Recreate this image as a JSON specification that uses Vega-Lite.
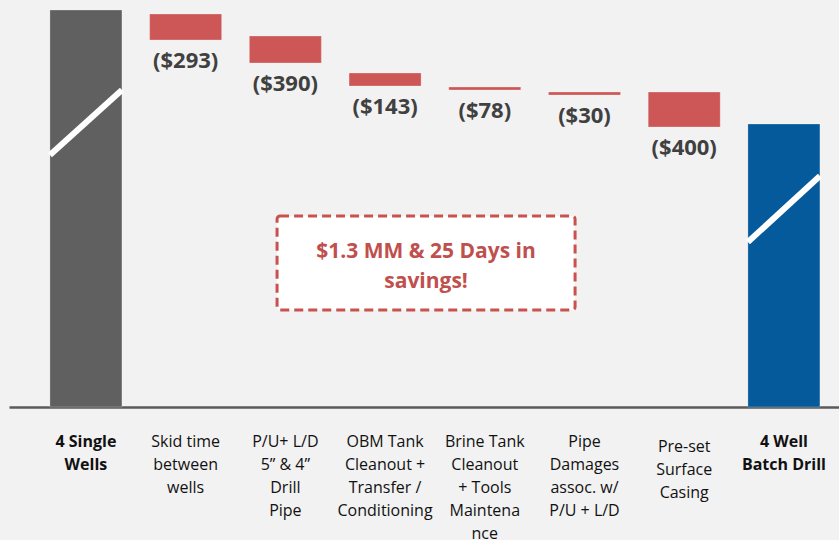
{
  "$schema": "https://vega.github.io/schema/vega-lite/v6.json",
  "autosize": "none",
  "width": 830,
  "height": 407,
  "padding": {"left": 9, "top": 0, "right": 0, "bottom": 133},
  "background": "#f2f2f2",
  "config": {"view": {"stroke": null}, "font": "Open Sans"},
  "resolve": {"scale": {"xOffset": "independent"}},
  "datasets": {
    "bars": [
      {"cat": "4 Single|Wells", "start": 0, "end": 397, "kind": "single", "label": ""},
      {"cat": "Skid time|between|wells", "start": 393, "end": 367, "kind": "saving", "label": "($293)"},
      {"cat": "P/U+  L/D|5”  & 4”|Drill|Pipe", "start": 371, "end": 344, "kind": "saving", "label": "($390)"},
      {"cat": "OBM Tank|Cleanout +|Transfer /|Conditioning", "start": 334, "end": 321, "kind": "saving", "label": "($143)"},
      {"cat": "Brine Tank|Cleanout|+ Tools|Maintena|nce", "start": 320, "end": 317, "kind": "saving", "label": "($78)"},
      {"cat": "Pipe|Damages|assoc. w/|P/U + L/D", "start": 315, "end": 312, "kind": "saving", "label": "($30)"},
      {"cat": "Pre-set|Surface|Casing", "start": 315, "end": 280, "kind": "saving", "label": "($400)"},
      {"cat": "4 Well|Batch Drill", "start": 0, "end": 283, "kind": "batch", "label": ""}
    ],
    "breaks": [
      {"cat": "4 Single|Wells", "side": "L", "v": 252},
      {"cat": "4 Single|Wells", "side": "R", "v": 317},
      {"cat": "4 Well|Batch Drill", "side": "L", "v": 165},
      {"cat": "4 Well|Batch Drill", "side": "R", "v": 231}
    ],
    "note": [
      {"cat": "OBM Tank|Cleanout +|Transfer /|Conditioning", "top": 191, "bottom": 97, "mid": 155.5, "text": "$1.3 MM & 25 Days in\nsavings!"}
    ]
  },
  "encoding": {
    "x": {
      "field": "cat",
      "type": "nominal",
      "sort": null,
      "scale": {
        "domain": ["4 Single|Wells", "Skid time|between|wells", "P/U+  L/D|5”  & 4”|Drill|Pipe", "OBM Tank|Cleanout +|Transfer /|Conditioning", "Brine Tank|Cleanout|+ Tools|Maintena|nce", "Pipe|Damages|assoc. w/|P/U + L/D", "Pre-set|Surface|Casing", "4 Well|Batch Drill"],
        "paddingInner": 0.278,
        "paddingOuter": 0.301,
        "align": 0.682
      },
      "axis": {
        "title": null,
        "orient": "bottom",
        "labelExpr": "split(datum.label, '|')",
        "labelAngle": 0,
        "labelFontSize": 16,
        "labelFont": "Open Sans",
        "labelColor": "#111111",
        "labelLineHeight": 23,
        "labelBaseline": "top",
        "labelPadding": {"condition": {"test": "indexof(datum.value, 'Pre-set') == 0", "value": 31}, "value": 26},
        "labelFontWeight": {"condition": {"test": "indexof(datum.value, '4 ') == 0", "value": "bold"}, "value": "normal"},
        "labelLimit": 0,
        "ticks": false,
        "domainColor": "#5a5a5a",
        "domainWidth": 2.5,
        "grid": false
      }
    }
  },
  "layer": [
    {
      "data": {"name": "bars"},
      "mark": {"type": "bar", "width": {"band": 1}, "strokeWidth": 1, "stroke": "#ffffff", "strokeOpacity": 0.25},
      "encoding": {
        "y": {"field": "start", "type": "quantitative", "scale": {"domain": [0, 407], "nice": false}, "axis": null},
        "y2": {"field": "end"},
        "color": {"field": "kind", "type": "nominal", "scale": {"domain": ["single", "saving", "batch"], "range": ["#606060", "#cd5756", "#055a9b"]}, "legend": null}
      }
    },
    {
      "data": {"name": "bars"},
      "mark": {"type": "text", "dy": 21, "baseline": "middle", "align": "center", "fontSize": 22, "fontWeight": "bold", "font": "Open Sans", "color": "#404040"},
      "encoding": {
        "y": {"field": "end", "type": "quantitative"},
        "text": {"field": "label"}
      }
    },
    {
      "data": {"name": "breaks"},
      "mark": {"type": "line", "color": "#ffffff", "strokeWidth": 6, "strokeCap": "butt"},
      "encoding": {
        "xOffset": {"field": "side", "type": "nominal", "scale": {"type": "point", "domain": ["L", "R"], "padding": 0}},
        "y": {"field": "v", "type": "quantitative"},
        "detail": {"field": "cat"}
      }
    },
    {
      "data": {"name": "note"},
      "mark": {"type": "bar", "width": 298, "xOffset": 41, "fill": "#ffffff", "stroke": "#c9524f", "strokeWidth": 3, "strokeDash": [9, 5], "cornerRadius": 3},
      "encoding": {
        "y": {"field": "top", "type": "quantitative"},
        "y2": {"field": "bottom"}
      }
    },
    {
      "data": {"name": "note"},
      "mark": {"type": "text", "xOffset": 41, "align": "center", "baseline": "middle", "lineBreak": "\n", "lineHeight": 30, "fontSize": 21, "fontWeight": "bold", "font": "Open Sans", "color": "#c0504d"},
      "encoding": {
        "y": {"field": "mid", "type": "quantitative"},
        "text": {"field": "text"}
      }
    }
  ]
}
